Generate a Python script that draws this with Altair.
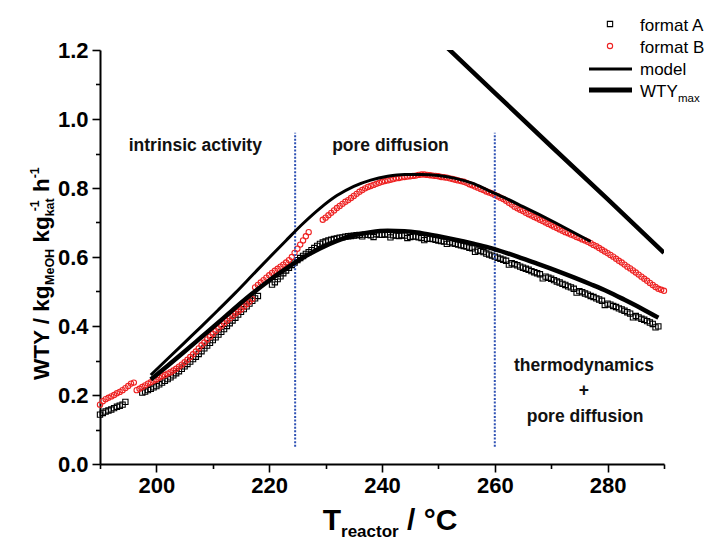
import altair as alt
import pandas as pd

# ---------------- data ----------------
# format A (black open squares)
a_T = [190.0, 190.5, 191.0, 191.5, 192.0, 192.5, 193.0, 193.5, 194.0, 194.5,
       197.5, 198.0, 198.5, 199.0, 199.5, 200.0, 200.5, 201.0, 201.5, 202.0,
       202.5, 203.0, 203.5, 204.0, 204.5, 205.0, 205.5, 206.0, 206.5, 207.0,
       207.5, 208.0, 208.5, 209.0, 209.5, 210.0, 210.5, 211.0, 211.5, 212.0,
       212.5, 213.0, 213.5, 214.0, 214.5, 215.0, 215.5, 216.0, 216.5, 217.0,
       217.5, 218.0,
       220.5, 221.0, 221.5, 222.0, 222.5, 223.0, 223.5, 224.0, 224.5, 225.0,
       225.5, 226.0, 226.5, 227.0, 227.5, 228.0, 228.5, 229.0, 229.5, 230.0,
       230.5, 231.0, 231.5, 232.0, 232.5, 233.0, 233.5, 234.0, 234.5, 235.0,
       235.5, 236.0, 236.5, 237.0, 237.5, 238.0, 238.5, 239.0, 239.5, 240.0,
       240.5, 241.0, 241.5, 242.0, 242.5, 243.0, 243.5, 244.0, 244.5, 245.0,
       245.5, 246.0, 246.5, 247.0, 247.5, 248.0, 248.5, 249.0, 249.5, 250.0,
       250.5, 251.0, 251.5, 252.0, 252.5, 253.0, 253.5, 254.0, 254.5, 255.0,
       255.5, 256.0, 256.5, 257.0, 257.5, 258.0, 258.5, 259.0, 259.5, 260.0,
       260.5, 261.0, 261.5, 262.0, 262.5, 263.0, 263.5, 264.0, 264.5, 265.0,
       265.5, 266.0, 266.5, 267.0, 267.5, 268.0, 268.5, 269.0, 269.5, 270.0,
       270.5, 271.0, 271.5, 272.0, 272.5, 273.0, 273.5, 274.0, 274.5, 275.0,
       275.5, 276.0, 276.5, 277.0, 277.5, 278.0, 278.5, 279.0, 279.5, 280.0,
       280.5, 281.0, 281.5, 282.0, 282.5, 283.0, 283.5, 284.0, 284.5, 285.0,
       285.5, 286.0, 286.5, 287.0, 287.5, 288.0, 288.5, 289.0]
a_v = [0.143, 0.148, 0.152, 0.155, 0.158, 0.162, 0.166, 0.169, 0.172, 0.180,
       0.207, 0.210, 0.214, 0.218, 0.222, 0.226, 0.231, 0.236, 0.241, 0.246,
       0.251, 0.257, 0.263, 0.269, 0.276, 0.283, 0.290, 0.297, 0.304, 0.311,
       0.319, 0.327, 0.335, 0.343, 0.351, 0.359, 0.367, 0.375, 0.383, 0.391,
       0.400, 0.408, 0.416, 0.424, 0.433, 0.441, 0.449, 0.457, 0.465, 0.473,
       0.480, 0.487,
       0.520, 0.527, 0.536, 0.544, 0.553, 0.561, 0.569, 0.577, 0.584, 0.591,
       0.597, 0.603, 0.609, 0.614, 0.620, 0.626, 0.632, 0.638, 0.642, 0.645,
       0.648, 0.650, 0.652, 0.654, 0.656, 0.657, 0.659, 0.660, 0.661, 0.662,
       0.663, 0.664, 0.660, 0.665, 0.664, 0.663, 0.658, 0.666, 0.665, 0.664,
       0.666, 0.665, 0.657, 0.663, 0.662, 0.661, 0.663, 0.662, 0.655, 0.658,
       0.660, 0.659, 0.657, 0.655, 0.649, 0.653, 0.653, 0.652, 0.650, 0.648,
       0.646, 0.645, 0.638, 0.643, 0.640, 0.638, 0.636, 0.634, 0.632, 0.630,
       0.627, 0.625, 0.615, 0.619, 0.617, 0.614, 0.610, 0.607, 0.604, 0.601,
       0.598, 0.595, 0.592, 0.589, 0.578, 0.582, 0.579, 0.576, 0.572, 0.569,
       0.566, 0.563, 0.559, 0.556, 0.553, 0.550, 0.538, 0.543, 0.540, 0.537,
       0.533, 0.529, 0.526, 0.522, 0.519, 0.515, 0.512, 0.508, 0.497, 0.501,
       0.498, 0.494, 0.491, 0.487, 0.484, 0.480, 0.477, 0.473, 0.461, 0.465,
       0.462, 0.458, 0.455, 0.451, 0.448, 0.444, 0.440, 0.436, 0.425, 0.429,
       0.425, 0.421, 0.418, 0.414, 0.410, 0.406, 0.396, 0.399]

# format B (red open circles)
b_T = [190.0, 190.5, 191.0, 191.5, 192.0, 192.5, 193.0, 193.5, 194.0, 194.5,
       195.0, 195.5, 196.0, 196.5, 197.0, 197.5, 198.0, 198.5, 199.0, 199.5,
       200.0, 200.5, 201.0, 201.5, 202.0, 202.5, 203.0, 203.5, 204.0, 204.5,
       205.0, 205.5, 206.0, 206.5, 207.0, 207.5, 208.0, 208.5, 209.0, 209.5,
       210.0, 210.5, 211.0, 211.5, 212.0, 212.5, 213.0, 213.5, 214.0, 214.5,
       215.0, 215.5, 216.0, 216.5, 217.0, 217.5, 218.0, 218.5, 219.0, 219.5,
       220.0, 220.5, 221.0, 221.5, 222.0, 222.5, 223.0, 223.5, 224.0, 224.5,
       225.0, 225.5, 226.0, 226.5, 227.0,
       229.5, 230.0, 230.5, 231.0, 231.5, 232.0, 232.5, 233.0, 233.5, 234.0,
       234.5, 235.0, 235.5, 236.0, 236.5, 237.0, 237.5, 238.0, 238.5, 239.0,
       239.5, 240.0, 240.5, 241.0, 241.5, 242.0, 242.5, 243.0, 243.5, 244.0,
       244.5, 245.0, 245.5, 246.0, 246.5, 247.0, 247.5, 248.0, 248.5, 249.0,
       249.5, 250.0, 250.5, 251.0, 251.5, 252.0, 252.5, 253.0, 253.5, 254.0,
       254.5, 255.0, 255.5, 256.0, 256.5, 257.0, 257.5, 258.0, 258.5, 259.0,
       259.5, 260.0, 260.5, 261.0, 261.5, 262.0, 262.5, 263.0, 263.5, 264.0,
       264.5, 265.0, 265.5, 266.0, 266.5, 267.0, 267.5, 268.0, 268.5, 269.0,
       269.5, 270.0, 270.5, 271.0, 271.5, 272.0, 272.5, 273.0, 273.5, 274.0,
       274.5, 275.0, 275.5, 276.0, 276.5, 277.0, 277.5, 278.0, 278.5, 279.0,
       279.5, 280.0, 280.5, 281.0, 281.5, 282.0, 282.5, 283.0, 283.5, 284.0,
       284.5, 285.0, 285.5, 286.0, 286.5, 287.0, 287.5, 288.0, 288.5, 289.0,
       289.5, 290.0]
b_v = [0.172, 0.182, 0.188, 0.192, 0.196, 0.200, 0.205, 0.209, 0.214, 0.220,
       0.226, 0.233, 0.236, 0.214, 0.218, 0.223, 0.228, 0.233, 0.237, 0.241,
       0.245, 0.250, 0.254, 0.258, 0.262, 0.266, 0.271, 0.276, 0.282, 0.288,
       0.295, 0.302, 0.310, 0.318, 0.326, 0.335, 0.344, 0.352, 0.361, 0.369,
       0.377, 0.385, 0.393, 0.401, 0.408, 0.415, 0.422, 0.429, 0.436, 0.442,
       0.448, 0.456, 0.463, 0.470, 0.478, 0.512, 0.519, 0.526, 0.533, 0.540,
       0.547, 0.554, 0.560, 0.566, 0.572, 0.578, 0.584, 0.591, 0.600, 0.612,
       0.624, 0.636, 0.648, 0.660, 0.672,
       0.708, 0.714, 0.721, 0.728, 0.735, 0.742, 0.748, 0.754, 0.760, 0.765,
       0.771, 0.777, 0.783, 0.789, 0.794, 0.799, 0.803, 0.806, 0.809, 0.812,
       0.815, 0.818, 0.820, 0.822, 0.824, 0.826, 0.828, 0.829, 0.831, 0.832,
       0.833, 0.834, 0.835, 0.836, 0.838, 0.839, 0.839, 0.838, 0.837, 0.836,
       0.835, 0.834, 0.832, 0.831, 0.830, 0.828, 0.826, 0.824, 0.822, 0.820,
       0.818, 0.815, 0.811, 0.808, 0.804, 0.801, 0.797, 0.794, 0.790, 0.787,
       0.784, 0.780, 0.776, 0.772, 0.768, 0.763, 0.757, 0.752, 0.746, 0.741,
       0.737, 0.733, 0.728, 0.724, 0.720, 0.716, 0.712, 0.708, 0.704, 0.700,
       0.696, 0.692, 0.688, 0.684, 0.680, 0.676, 0.672, 0.669, 0.665, 0.662,
       0.658, 0.655, 0.651, 0.648, 0.644, 0.640, 0.635, 0.631, 0.626, 0.621,
       0.616, 0.611, 0.606, 0.601, 0.595, 0.589, 0.584, 0.578, 0.572, 0.567,
       0.561, 0.555, 0.549, 0.543, 0.537, 0.531, 0.525, 0.519, 0.513, 0.508,
       0.505, 0.502]

# model curve for format A (lower, thick)
mA_T = [199, 202, 205, 208, 211, 214, 217, 220, 223, 226, 229, 232, 235, 238, 241, 244, 247, 250,
        253, 256, 259, 262, 265, 268, 271, 274, 277, 280, 283, 286, 289]
mA_v = [0.245, 0.285, 0.326, 0.368, 0.410, 0.453, 0.494, 0.532, 0.566, 0.598, 0.625, 0.647, 0.663,
        0.672, 0.676, 0.675, 0.669, 0.660, 0.650, 0.639, 0.627, 0.612, 0.595, 0.578, 0.560, 0.541,
        0.521, 0.500, 0.476, 0.451, 0.424]

# model curve for format B (upper, thin)
mB_T = [199, 202, 205, 208, 211, 214, 217, 220, 223, 226, 229, 232, 235, 238, 241, 244, 247, 250,
        253, 256, 259, 262, 265, 268, 271, 274, 277]
mB_v = [0.258, 0.305, 0.352, 0.399, 0.447, 0.496, 0.547, 0.598, 0.648, 0.697, 0.741, 0.778, 0.805,
        0.823, 0.834, 0.839, 0.839, 0.836, 0.828, 0.814, 0.792, 0.770, 0.746, 0.722, 0.697, 0.671,
        0.645]

# thermodynamic maximum WTY_max
max_T = [250, 260, 270, 280, 290]
max_v = [1.231, 1.076, 0.921, 0.768, 0.612]

# regime boundaries
bound_T = [224.6, 260.0]
bound_lo = [0.05, 0.05]
bound_hi = [0.96, 0.96]

# annotations
ann_text = ["intrinsic activity", "pore diffusion", "thermodynamics", "+", "pore diffusion"]
ann_T = [206.9, 241.5, 275.8, 275.8, 276.0]
ann_v = [0.906, 0.908, 0.270, 0.197, 0.123]

x_major = [200, 220, 240, 260, 280]
x_minor = [190, 210, 230, 250, 270, 290]
y_major = [0.0, 0.2, 0.4, 0.6, 0.8, 1.0, 1.2]
y_minor = [0.1, 0.3, 0.5, 0.7, 0.9, 1.1]

# ---------------- chart ----------------
FONT = "Liberation Sans"
W, H = 564, 414
xs = alt.Scale(domain=[190, 290], nice=False, zero=False)
ys = alt.Scale(domain=[0, 1.2], nice=False, zero=False)

ax_common = dict(grid=False, title=None, domainColor="black", tickColor="black",
                 domainWidth=2, tickWidth=1.6)
x_ax = alt.Axis(values=x_major, orient="bottom", tickSize=8, labelFont=FONT, labelFontSize=22,
                labelFontWeight="bold", labelColor="black", labelPadding=3, labelFlush=False,
                format="d", **ax_common)
y_ax = alt.Axis(values=y_major, orient="left", tickSize=8, labelFont=FONT, labelFontSize=22,
                labelFontWeight="bold", labelColor="black", labelPadding=4, labelFlush=False,
                format=".1f", **ax_common)
x_ax2 = alt.Axis(values=x_minor, orient="bottom", tickSize=4.5, labels=False, domain=False,
                 grid=False, title=None, tickColor="black", tickWidth=1.6)
y_ax2 = alt.Axis(values=y_minor, orient="left", tickSize=4.5, labels=False, domain=False,
                 grid=False, title=None, tickColor="black", tickWidth=1.6)

df_a = pd.DataFrame({"T": a_T, "v": a_v})
df_b = pd.DataFrame({"T": b_T, "v": b_v})
df_mA = pd.DataFrame({"T": mA_T, "v": mA_v})
df_mB = pd.DataFrame({"T": mB_T, "v": mB_v})
df_max = pd.DataFrame({"T": max_T, "v": max_v})
df_bd = pd.DataFrame({"T": bound_T, "lo": bound_lo, "hi": bound_hi})
df_ann = pd.DataFrame({"T": ann_T, "v": ann_v, "label": ann_text})


def X(axis=None):
    return alt.X("T:Q", scale=xs, axis=axis)


def Y(axis=None):
    return alt.Y("v:Q", scale=ys, axis=axis)


RED = "#ee2222"
pts_a = alt.Chart(df_a).mark_point(shape="square", filled=False, color="black", size=28,
                                   strokeWidth=1.1, opacity=1).encode(x=X(x_ax), y=Y(y_ax))
pts_b = alt.Chart(df_b).mark_point(shape="circle", filled=False, color=RED, size=28,
                                   strokeWidth=1.1, opacity=1).encode(x=X(), y=Y())
bounds = alt.Chart(df_bd).mark_rule(color="#2f52b4", strokeDash=[2, 1.6], strokeWidth=2).encode(
    x=alt.X("T:Q", scale=xs, axis=x_ax2),
    y=alt.Y("lo:Q", scale=ys, axis=y_ax2), y2="hi:Q")
line_b = alt.Chart(df_mB).mark_line(color="black", strokeWidth=3, interpolate="monotone").encode(x=X(), y=Y())
line_a = alt.Chart(df_mA).mark_line(color="black", strokeWidth=4.5, interpolate="monotone").encode(x=X(), y=Y())
line_max = alt.Chart(df_max).mark_line(color="black", strokeWidth=4.5, clip=True).encode(x=X(), y=Y())
ann = alt.Chart(df_ann).mark_text(font=FONT, fontWeight="bold", fontSize=17.5, color="#111111",
                                  align="center", baseline="alphabetic").encode(
    x=X(), y=Y(), text="label:N")

dummy = pd.DataFrame({"k": [0]})


def txt(s, x, y, size, bold=True, angle=0, align="left"):
    kw = dict(text=s, font=FONT, fontSize=size, color="black", align=align,
              baseline="alphabetic")
    if bold:
        kw["fontWeight"] = "bold"
    if angle:
        kw["angle"] = angle
    return alt.Chart(dummy).mark_text(**kw).encode(x=alt.value(x), y=alt.value(y))


# Arial-bold advance widths (per em) for laying out the composite titles
AW = {' ': .278, '/': .278, '-': .333, '°': .4, '1': .556, 'W': .944, 'T': .611, 'Y': .667,
      'M': .833, 'O': .778, 'H': .722, 'C': .722, 'a': .556, 'c': .556, 'e': .556, 'g': .611,
      'h': .611, 'k': .556, 'o': .611, 'r': .389, 't': .333}


def wid(s, size):
    return sum(AW.get(ch, .55) for ch in s) * size


layers = [pts_a, pts_b, bounds, line_b, line_a, line_max, ann]

# y-axis title (rotated, reading upward); "-1" stacked over the "kat" subscript
F, f = 22.5, 12.5
yt_x = -51
gap = wid(" ", F)
pos = 330.0
layers.append(txt("WTY / kg", yt_x, pos, F, angle=270)); pos -= wid("WTY / kg", F)
layers.append(txt("MeOH", yt_x + 5, pos, f, angle=270)); pos -= wid("MeOH", f) + gap
layers.append(txt("kg", yt_x, pos, F, angle=270)); pos -= wid("kg", F)
layers.append(txt("kat", yt_x + 5, pos, f, angle=270))
layers.append(txt("-1", yt_x - 10, pos - 5, f, angle=270)); pos -= wid("kat", f) + gap
layers.append(txt("h", yt_x, pos, F, angle=270)); pos -= wid("h", F)
layers.append(txt("-1", yt_x - 10, pos, f, angle=270))

# x-axis title
FX, fx = 30, 17
xgap = wid(" ", FX)
total = wid("T", FX) + wid("reactor", fx) + xgap + wid("/ °C", FX)
px = 290 - total / 2
layers.append(txt("T", px, 480, FX)); px += wid("T", FX)
layers.append(txt("reactor", px, 487, fx)); px += wid("reactor", fx) + xgap
layers.append(txt("/ °C", px, 480, FX))

# legend
LX = 510
layers.append(alt.Chart(dummy).mark_point(shape="square", filled=False, color="black", size=28,
                                          strokeWidth=1.1, opacity=1).encode(x=alt.value(LX), y=alt.value(-26)))
layers.append(alt.Chart(dummy).mark_point(shape="circle", filled=False, color=RED, size=28,
                                          strokeWidth=1.1, opacity=1).encode(x=alt.value(LX), y=alt.value(-4)))
layers.append(alt.Chart(dummy).mark_rule(color="black", strokeWidth=3).encode(
    x=alt.value(489), x2=alt.value(532), y=alt.value(19)))
layers.append(alt.Chart(dummy).mark_rule(color="black", strokeWidth=5).encode(
    x=alt.value(489), x2=alt.value(532), y=alt.value(40)))
for s, yy in [("format A", -19), ("format B", 3), ("model", 25), ("WTY", 47)]:
    layers.append(txt(s, 540, yy, 17, bold=False))
layers.append(txt("max", 578, 52, 11.5, bold=False))

chart = alt.layer(*layers).resolve_axis(x="independent", y="independent").properties(
    width=W, height=H,
    padding={"left": 92, "top": 42, "right": 40, "bottom": 78},
    autosize=alt.AutoSizeParams(type="none"),
).configure_view(stroke=None)

chart.save("out.html", embed_options={"renderer": "svg", "actions": False})
